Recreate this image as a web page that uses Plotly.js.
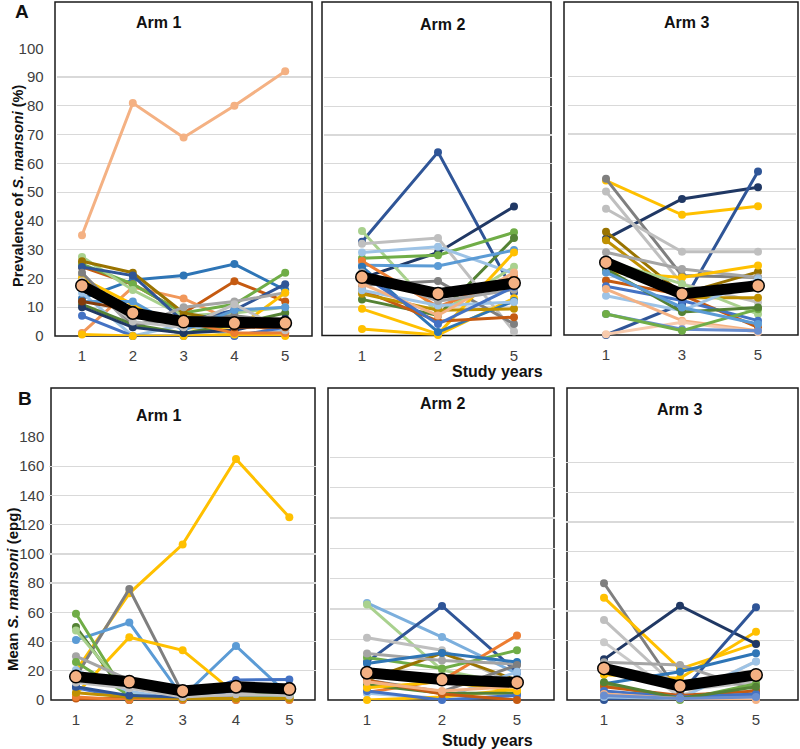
<!DOCTYPE html>
<html><head><meta charset="utf-8">
<script src="https://cdn.plot.ly/plotly-3.0.1.min.js"></script>
<style>html,body{margin:0;padding:0;background:#fff}#chart{width:800px;height:749px}</style>
</head><body><div id="chart"></div><script>
// ---------- categories ----------
const yearsArm1 = ['1','2','3','4','5'];
const yearsArm2 = ['1','2','5'];
const yearsArm3 = ['1','3','5'];

// ---------- A: prevalence (%) ----------
const prevArm1 = [
  [35, 81, 69, 80, 92],
  [13, 19.5, 21, 25, 16],
  [24, 18, 8, 19, 12],
  [1, 17, 13, 5, 1],
  [25, 18, 8, 11, 22],
  [27.5, 16, 7, 8, 10],
  [26, 22, 8, 5, 5],
  [24, 21, 5, 9, 18],
  [21, 3, 10, 12, 15],
  [20, 11, 3, 2, 15],
  [15, 0, 4, 0, 2],
  [7, 0, 0, 0, 3],
  [0.5, 0, 0, 0.5, 0],
  [11, 4, 1, 4, 8],
  [22, 4, 6, 7, 5],
  [12, 12, 2, 9, 10],
  [10, 3, 1, 2, 6],
  [18, 8, 5, 1, 1],
  [19, 5, 3, 11, 2],
  [12, 9, 6, 3, 3]
];
const prevArm1Mean = [17.5, 8, 5, 4.5, 4.5];

const prevArm2 = [
  [32.7, 64, 15],
  [20, 29, 45],
  [36.5, 7.6, 24],
  [27, 28, 36],
  [12.6, 7, 34],
  [32, 34, 1.4],
  [17.5, 19, 4],
  [29, 31, 21.6],
  [24.5, 24.3, 29.8],
  [26, 10, 20.4],
  [9.3, 0.5, 29],
  [2.3, 0.2, 13],
  [24, 1.2, 12],
  [15.8, 5, 6.4],
  [14.6, 8.8, 9.3],
  [15.8, 10.5, 11.7],
  [18, 7, 22],
  [22, 12, 16],
  [21, 4, 17]
];
const prevArm2Mean = [20.4, 14.6, 18.3];

const prevArm3 = [
  [53.8, 41.9, 44.9],
  [33.5, 47.4, 51.5],
  [0, 10.8, 57],
  [54.4, 20.7, 20],
  [50, 17.8, 11.4],
  [44, 29, 29],
  [36, 14.3, 22],
  [33, 13, 13],
  [28.8, 23, 20],
  [22, 20, 24.2],
  [26, 17.8, 7.3],
  [19, 14, 2.7],
  [17, 12, 5],
  [13.7, 8.5, 19.5],
  [16, 5, 1.5],
  [0.3, 4.4, 1],
  [7.3, 2, 1.5],
  [7.3, 1.5, 9],
  [23, 8, 9.6],
  [21.8, 9.6, 3.8]
];
const prevArm3Mean = [25.3, 14.3, 17.2];

// ---------- B: mean epg ----------
const epgArm1 = [
  [20, 73, 106.5, 165, 125],
  [16, 76, 4.5, 2, 1],
  [41, 53, 2, 37, 3],
  [4, 43, 34, 4, 1],
  [59, 0, 0, 2, 3],
  [50, 0, 1, 3, 5],
  [47.5, 4, 1, 1, 2],
  [30, 13.7, 3, 2, 2],
  [26, 3, 1, 1, 2],
  [8.4, 1, 1, 13.7, 14],
  [20.5, 6, 0, 0, 0],
  [1, 1, 0.5, 0.5, 1],
  [2, 0, 0, 0, 0],
  [5, 2, 1, 1, 1],
  [9, 3, 2, 6, 10],
  [12, 8, 2, 4, 3]
];
const epgArm1Mean = [16, 12.5, 6.2, 9.1, 7.5];

const epgArm2 = [
  [64, 41.5, 17.5],
  [63, 19.7, 10],
  [25, 62, 18.6],
  [5, 13, 42.6],
  [28, 20.8, 32.8],
  [41, 32.8, 10],
  [13, 31, 13],
  [30.6, 26, 23.6],
  [24, 31, 25],
  [13, 5.5, 23],
  [4.4, 1, 18.6],
  [0, 2, 7],
  [10, 4.4, 4.4],
  [6, 0, 3],
  [13, 4, 0],
  [8, 12, 6],
  [12, 6, 9]
];
const epgArm2Mean = [18, 13.5, 11.6];

const epgArm3 = [
  [78.7, 4, 3],
  [69, 21, 38],
  [17, 14.6, 46],
  [27.4, 63.6, 37.8],
  [0, 4, 62.5],
  [54, 6.7, 12],
  [39, 2, 26],
  [25.4, 23.6, 6.7],
  [11, 19, 31.5],
  [2, 1, 26],
  [10.8, 0, 11],
  [9, 3, 6],
  [6, 2, 4],
  [12, 1, 9],
  [4, 1, 0],
  [3, 1, 2]
];
const epgArm3Mean = [21.3, 9.4, 16.9];

// ---------- styles ----------
const colA1 = ['#F4B183','#2E75B6','#C55A11','#F1975A','#70AD47','#A9D18E','#997300','#2F5597','#A5A5A5','#FFC000','#9DC3E6','#4472C4','#FFC000','#548235','#7F7F7F','#5B9BD5','#203864','#ED7D31','#BFBFBF','#843C0C'];
const colA2 = ['#2F5597','#203864','#A9D18E','#70AD47','#548235','#BFBFBF','#7F7F7F','#9DC3E6','#5B9BD5','#ED7D31','#FFC000','#FFC000','#2E75B6','#C55A11','#BF9000','#9DC3E6','#F4B183','#A5A5A5','#4472C4'];
const colA3 = ['#FFC000','#203864','#2F5597','#7F7F7F','#BFBFBF','#BFBFBF','#997300','#BF9000','#A5A5A5','#FFC000','#A9D18E','#C55A11','#4472C4','#9DC3E6','#F4B183','#F8CBAD','#698ED0','#70AD47','#548235','#5B9BD5'];
const colB1 = ['#FFC000','#7F7F7F','#5B9BD5','#FFC000','#70AD47','#548235','#A9D18E','#A5A5A5','#70AD47','#4472C4','#9DC3E6','#C55A11','#ED7D31','#BF9000','#2F5597','#BFBFBF'];
const colB2 = ['#7CAFDD','#A9D18E','#2F5597','#ED7D31','#70AD47','#BFBFBF','#997300','#A5A5A5','#2E75B6','#7F7F7F','#9DC3E6','#FFC000','#548235','#4472C4','#C55A11','#FFC000','#F4B183'];
const colB3 = ['#7F7F7F','#FFC000','#FFC000','#203864','#2F5597','#BFBFBF','#C9C9C9','#A5A5A5','#2E75B6','#9DC3E6','#70AD47','#C55A11','#4472C4','#548235','#F4B183','#698ED0'];

const W = 800, H = 749;
const px = v => v / W;
const py = v => 1 - v / H;

const panels = [
  {years: yearsArm1, data: prevArm1, mean: prevArm1Mean, cols: colA1, xd: [56.6, 310.6], yd: [336, 48.3], ymax: 100, dt: 10, frame: [55, 2, 312, 336], title: 'Arm 1', tp: [158, 22], ylab: true, stand: 12},
  {years: yearsArm2, data: prevArm2, mean: prevArm2Mean, cols: colA2, xd: [324, 552], yd: [335.5, 49], ymax: 100, dt: 10, frame: [322, 2, 551, 335.5], title: 'Arm 2', tp: [442, 25]},
  {years: yearsArm3, data: prevArm3, mean: prevArm3Mean, cols: colA3, xd: [568, 796], yd: [335, 48], ymax: 100, dt: 10, frame: [564, 2, 798, 335], title: 'Arm 3', tp: [686, 22]},
  {years: yearsArm1, data: epgArm1, mean: epgArm1Mean, cols: colB1, xd: [49.3, 316], yd: [700, 437], ymax: 180, dt: 20, frame: [51, 388, 315, 700], title: 'Arm 1', tp: [158, 415], ylab: true, stand: 4},
  {years: yearsArm2, data: epgArm2, mean: epgArm2Mean, cols: colB2, xd: [329.5, 554.5], yd: [700, 427], ymax: 180, dt: 20, frame: [328, 388, 554, 700], title: 'Arm 2', tp: [442, 403]},
  {years: yearsArm3, data: epgArm3, mean: epgArm3Mean, cols: colB3, xd: [566, 794], yd: [700, 433], ymax: 180, dt: 20, frame: [567, 388, 798, 700], title: 'Arm 3', tp: [679, 409]}
];

const FONT = 'Liberation Sans, Arial, sans-serif';
const traces = [];
const layout = {
  width: W, height: H,
  margin: {l: 0, r: 0, t: 0, b: 0},
  paper_bgcolor: '#fff', plot_bgcolor: 'rgba(0,0,0,0)',
  showlegend: false,
  font: {family: FONT, color: '#404040'},
  shapes: [], annotations: []
};

panels.forEach((p, i) => {
  const k = i + 1;
  const xa = 'x' + (k === 1 ? '' : k), ya = 'y' + (k === 1 ? '' : k);
  p.data.forEach((s, j) => {
    traces.push({
      x: p.years, y: s, type: 'scatter', mode: 'lines+markers',
      xaxis: xa, yaxis: ya, cliponaxis: false, hoverinfo: 'skip',
      line: {color: p.cols[j], width: 3},
      marker: {color: p.cols[j], size: 8}
    });
  });
  traces.push({
    x: p.years, y: p.mean, type: 'scatter', mode: 'lines+markers',
    xaxis: xa, yaxis: ya, cliponaxis: false, hoverinfo: 'skip',
    line: {color: '#000', width: 11},
    marker: {color: '#F4B183', size: 12.5, line: {color: '#000', width: 1.5}}
  });
  layout['xaxis' + (k === 1 ? '' : k)] = {
    type: 'category', domain: [px(p.xd[0]), px(p.xd[1])], anchor: ya,
    range: [-0.5, p.years.length - 0.5], showgrid: false, zeroline: false,
    showline: false, ticks: '', ticklabelstandoff: 9,
    tickfont: {family: FONT, size: 15, color: '#404040'}, fixedrange: true
  };
  layout['yaxis' + (k === 1 ? '' : k)] = {
    domain: [py(p.yd[0]), py(p.yd[1])], anchor: xa,
    range: [0, p.ymax], dtick: p.dt, tick0: 0,
    showgrid: true, gridcolor: '#d9d9d9', gridwidth: 1.3,
    zeroline: false, showline: false, ticks: '',
    showticklabels: !!p.ylab, ticklabelstandoff: p.stand || 0,
    tickfont: {family: FONT, size: 15, color: '#404040'}, fixedrange: true
  };
  const f = p.frame;
  layout.shapes.push({
    type: 'rect', xref: 'paper', yref: 'paper', layer: 'below',
    x0: px(f[0]), x1: px(f[2]), y0: py(f[3]), y1: py(f[1]),
    line: {color: '#1a1a1a', width: 1.5}, fillcolor: 'rgba(0,0,0,0)'
  });
  layout.annotations.push({
    text: '<b>' + p.title + '</b>', xref: 'paper', yref: 'paper',
    x: px(p.tp[0]), y: py(p.tp[1]), xanchor: 'center', yanchor: 'middle',
    showarrow: false, font: {family: FONT, size: 16, color: '#111'}
  });
});

const extraText = [
  {t: '<b>A</b>', x: 22, y: 12, s: 19},
  {t: '<b>B</b>', x: 25, y: 398, s: 19},
  {t: '<b>Study years</b>', x: 497, y: 372, s: 16},
  {t: '<b>Study years</b>', x: 487, y: 740, s: 16}
];
extraText.forEach(e => layout.annotations.push({
  text: e.t, xref: 'paper', yref: 'paper', x: px(e.x), y: py(e.y),
  xanchor: 'center', yanchor: 'middle', showarrow: false,
  font: {family: FONT, size: e.s, color: '#111'}
}));
layout.annotations.push({
  text: '<b>Prevalence of <i>S. mansoni</i> (%)</b>', xref: 'paper', yref: 'paper',
  x: px(18), y: py(186), xanchor: 'center', yanchor: 'middle', textangle: -90,
  showarrow: false, font: {family: FONT, size: 14.5, color: '#111'}
});
layout.annotations.push({
  text: '<b>Mean <i>S. mansoni</i> (epg)</b>', xref: 'paper', yref: 'paper',
  x: px(12), y: py(590), xanchor: 'center', yanchor: 'middle', textangle: -90,
  showarrow: false, font: {family: FONT, size: 15, color: '#111'}
});

Plotly.newPlot('chart', traces, layout, {staticPlot: true, displayModeBar: false});
</script></body></html>
